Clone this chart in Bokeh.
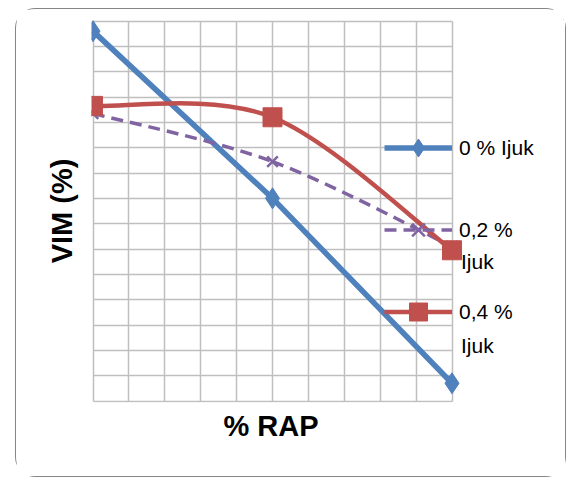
from bokeh.plotting import figure
from bokeh.models import (FixedTicker, Legend, LegendItem, Label, Range1d, Title)
from bokeh.embed import file_html
from bokeh.resources import INLINE
import numpy as np

# ---- data ----
rap = [0, 20, 40]
vim_0 = [15.92, 14.60, 13.14]     # 0 % Ijuk
vim_02 = [15.27, 14.89, 14.22]    # 0,2 % Ijuk
vim_04 = [15.33, 15.24, 14.19]    # 0,4 % Ijuk
x_ticks = list(range(0, 41, 4))
y_ticks = [round(13.0 + 0.2 * i, 1) for i in range(16)]
legend_labels = ["0 % Ijuk", "0,2 %", "0,4 %"]
legend_second_line = ["Ijuk", "Ijuk"]
x_title = "% RAP"
y_title = "VIM (%)"

BLUE = "#4f81bd"
RED = "#c0504d"
PURPLE = "#8064a2"
FONT = "Liberation Sans"


def smooth_ctrl(xs, ys):
    """Excel-like smoothed line: cubic Bezier control points."""
    P = np.column_stack([xs, ys]).astype(float)
    n = len(P)
    out = {k: [] for k in ("x0", "y0", "x1", "y1", "cx0", "cy0", "cx1", "cy1")}
    for i in range(n - 1):
        prev = P[i - 1] if i > 0 else P[i]
        nxt = P[i + 2] if i + 2 < n else P[i + 1]
        c1 = P[i] + (P[i + 1] - prev) / 6.0
        c2 = P[i + 1] - (nxt - P[i]) / 6.0
        out["x0"].append(P[i][0]); out["y0"].append(P[i][1])
        out["x1"].append(P[i + 1][0]); out["y1"].append(P[i + 1][1])
        out["cx0"].append(c1[0]); out["cy0"].append(c1[1])
        out["cx1"].append(c2[0]); out["cy1"].append(c2[1])
    return out


PX_X = 359 / 40.0     # px per x unit
PX_Y = 380 / 3.0      # px per y unit
x0 = -1.5 / PX_X
X_END = x0 + 474 / PX_X   # extra room on the right for the legend texts

p = figure(width=551, height=469, output_backend="svg", toolbar_location=None,
           x_range=Range1d(x0, X_END),
           y_range=Range1d(13.0 - 1.5 / PX_Y, 16.0 + 1.5 / PX_Y),
           min_border_left=75, min_border_right=2, min_border_top=10, min_border_bottom=76)
p.margin = (8, 0, 0, 15)
p.styles = {"border": "1.5px solid #868686", "border-radius": "20px"}

p.background_fill_color = "white"
p.border_fill_color = "white"
p.outline_line_color = None

for ax in (p.xaxis, p.yaxis):
    ax.ticker = FixedTicker(ticks=[])
    ax.axis_line_color = None
    ax.major_tick_line_color = None
    ax.minor_tick_line_color = None
    ax.axis_label_text_font = FONT
    ax.axis_label_text_font_style = "bold"
    ax.axis_label_text_font_size = "29px"
    ax.axis_label_text_color = "black"
p.yaxis.axis_label = y_title
p.yaxis.axis_label_standoff = 14

p.add_layout(Title(text=x_title, align="left", offset=132, text_font=FONT,
                   text_font_style="bold", text_font_size="29px",
                   text_color="black"), "below")

p.xgrid.ticker = FixedTicker(ticks=x_ticks)
p.ygrid.ticker = FixedTicker(ticks=y_ticks)
p.ygrid.cross_bounds = (0, 40)
p.xgrid.cross_bounds = (13.0, 16.0)
for g in (p.xgrid, p.ygrid):
    g.grid_line_color = "#bfbfbf"
    g.grid_line_width = 1.5

# series
l0 = p.line(rap, vim_0, line_color=BLUE, line_width=5.5)
m0 = p.scatter(rap, vim_0, marker="diamond", size=21,
               fill_color=BLUE, line_color=BLUE)

b2 = p.bezier(**smooth_ctrl(rap, vim_02), line_color=PURPLE,
              line_width=3.5, line_dash="12 7")
m2 = p.scatter(rap, vim_02, marker="x", size=15, line_color=PURPLE, line_width=2.5)

b4 = p.bezier(**smooth_ctrl(rap, vim_04), line_color=RED, line_width=4.5)
m4 = p.scatter(rap, vim_04, marker="square", size=19, fill_color=RED, line_color=RED)

legend = Legend(items=[
    LegendItem(label=legend_labels[0], renderers=[l0, m0]),
    LegendItem(label=legend_labels[1], renderers=[b2, m2]),
    LegendItem(label=legend_labels[2], renderers=[b4, m4]),
], location=(293, 68), orientation="vertical", padding=0, margin=0,
    spacing=37, label_height=45, glyph_height=45, glyph_width=68,
    label_standoff=7, background_fill_alpha=0, border_line_color=None,
    label_text_font=FONT, label_text_font_size="21px", label_text_color="black")
p.add_layout(legend)

for txt, yy in zip(legend_second_line, [14.104, 13.439]):
    p.add_layout(Label(x=41.0, y=yy, text=txt,
                       text_font=FONT, text_font_size="21px", text_color="black",
                       text_baseline="middle"))

open("out.html", "w").write(file_html(p, INLINE))
